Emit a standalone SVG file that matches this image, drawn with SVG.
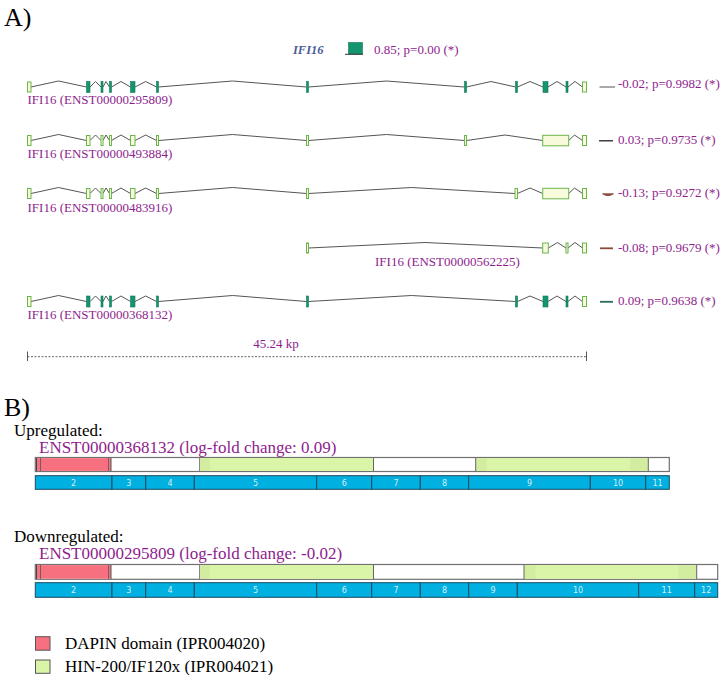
<svg xmlns="http://www.w3.org/2000/svg" width="720" height="675" viewBox="0 0 720 675">
<style>
text{font-family:"Liberation Serif","Times New Roman",serif}
.lab{font-size:13px;fill:#8e1d8e}
.pv{font-size:13px;fill:#8e1d8e}
.big{font-size:17px;fill:#000}
.tx{font-size:17px;fill:#8e1d8e}
.intr{fill:none;stroke:#555;stroke-width:1}
.ed{fill:#14946f;stroke:#0e7a58;stroke-width:0.6}
.el{fill:#f7fbdc;stroke:#6cb54c;stroke-width:1}
.pb{fill:#fff;stroke:#707070;stroke-width:1.2}
.dap{fill:#f7707f}
.hin{fill:#daf5a8}
.hin2{fill:#d2ed9f}
.ex{fill:#00b0e0;stroke:#1a4a60;stroke-width:1}
.en{font-size:8px;fill:#d8ecf4;text-anchor:middle;font-family:"DejaVu Sans",sans-serif}
</style>

<text x="4" y="26" style="font-size:26px;fill:#000">A)</text>

<g id="header">
<text x="293" y="54" style="font-size:12.5px;font-weight:bold;font-style:italic;fill:#4a5d98">IFI16</text>
<rect x="348.5" y="42.5" width="14" height="11.5" fill="#14946f" stroke="#0e7a58" stroke-width="0.6"/>
<line x1="345" y1="54.3" x2="363" y2="54.3" stroke="#333" stroke-width="1"/>
<text x="374" y="54" class="pv">0.85; p=0.00 (*)</text>
</g>

<g id="connectors">
<polyline class="intr" points="31,87 58.5,81 86.5,87"/>
<polyline class="intr" points="90,87 95.5,81.5 101,87"/>
<polyline class="intr" points="103,87 106,81.5 109.5,87"/>
<polyline class="intr" points="111.5,87 121,81.5 130.5,87"/>
<polyline class="intr" points="135,87 145.7,81.5 156.5,87"/>
<polyline class="intr" points="158.5,87 232.5,81 306.5,87"/>
<polyline class="intr" points="308.5,87 386.5,81 464.5,87"/>
<polyline class="intr" points="466.5,87 491,81.5 515.5,87"/>
<polyline class="intr" points="517.5,87 530,81.5 543,87"/>
<polyline class="intr" points="548,87 557,81.5 566,87"/>
<polyline class="intr" points="568,87 575,81.5 582.5,87"/>
<polyline class="intr" points="31,140.5 58.5,134.5 86.5,140.5"/>
<polyline class="intr" points="90,140.5 95.5,135 101,140.5"/>
<polyline class="intr" points="103,140.5 106,135 109.5,140.5"/>
<polyline class="intr" points="111.5,140.5 121,135 130.5,140.5"/>
<polyline class="intr" points="135,140.5 145.7,135 156.5,140.5"/>
<polyline class="intr" points="158.5,140.5 232.5,134.5 306.5,140.5"/>
<polyline class="intr" points="308.5,140.5 386.5,134.5 464.5,140.5"/>
<polyline class="intr" points="466.5,140.5 505,135 542.7,140.5"/>
<polyline class="intr" points="568.7,140.5 574.5,135 582.5,140.5"/>
<polyline class="intr" points="31,193.5 58.5,187.5 86.5,193.5"/>
<polyline class="intr" points="90,193.5 95.5,188 101,193.5"/>
<polyline class="intr" points="103,193.5 106,188 109.5,193.5"/>
<polyline class="intr" points="111.5,193.5 121,188 130.5,193.5"/>
<polyline class="intr" points="135,193.5 145.7,188 156.5,193.5"/>
<polyline class="intr" points="158.5,193.5 232.5,187.5 306.5,193.5"/>
<polyline class="intr" points="308.5,193.5 411.5,187.5 515,193.5"/>
<polyline class="intr" points="517.5,193.5 530,188 542.7,193.5"/>
<polyline class="intr" points="568.7,193.5 574.5,188 582.5,193.5"/>
<polyline class="intr" points="308.5,248 425,242.5 542.7,248"/>
<polyline class="intr" points="548.3,248 557.5,242.5 566,248"/>
<polyline class="intr" points="568,248 575,242.5 582.5,248"/>
<polyline class="intr" points="31,301.5 58.5,295.5 86.5,301.5"/>
<polyline class="intr" points="90,301.5 95.5,296 101,301.5"/>
<polyline class="intr" points="103,301.5 106,296 109.5,301.5"/>
<polyline class="intr" points="111.5,301.5 121,296 130.5,301.5"/>
<polyline class="intr" points="135,301.5 145.7,296 156.5,301.5"/>
<polyline class="intr" points="158.5,301.5 232.5,295.5 306.5,301.5"/>
<polyline class="intr" points="308.5,301.5 411.5,295.5 515.5,301.5"/>
<polyline class="intr" points="517.5,301.5 530,296 543,301.5"/>
<polyline class="intr" points="548,301.5 557,296 566,301.5"/>
<polyline class="intr" points="568,301.5 575,296 582.5,301.5"/>
</g>

<g id="track1">
<rect class="el" x="27.5" y="82" width="3.5" height="10"/>
<rect class="ed" x="86.5" y="81.5" width="3.5" height="11"/>
<rect class="ed" x="101" y="81.5" width="2" height="11"/>
<rect class="ed" x="109.5" y="81.5" width="2" height="11"/>
<rect class="ed" x="130.5" y="81.5" width="4.5" height="11"/>
<rect class="ed" x="156.5" y="81.5" width="2" height="11"/>
<rect class="ed" x="306.5" y="81.5" width="2" height="11"/>
<rect class="ed" x="464.5" y="81.5" width="2" height="11"/>
<rect class="ed" x="515.5" y="81.5" width="2" height="11"/>
<rect class="ed" x="543" y="81.5" width="5" height="11"/>
<rect class="ed" x="566" y="81.5" width="2" height="11"/>
<rect class="el" x="582.5" y="82" width="4" height="10"/>
<text x="27.5" y="103.5" class="lab">IFI16 (ENST00000295809)</text>
<line x1="599.5" y1="87" x2="615" y2="87" stroke="#555" stroke-width="1"/>
<text x="618" y="88" class="pv">-0.02; p=0.9982 (*)</text>
</g>

<g id="track2">
<rect class="el" x="27.5" y="135.5" width="3.5" height="10"/>
<rect class="el" x="86.5" y="135.5" width="3.5" height="10"/>
<rect class="el" x="101" y="135.5" width="2" height="10"/>
<rect class="el" x="109.5" y="135.5" width="2" height="10"/>
<rect class="el" x="130.5" y="135.5" width="4.5" height="10"/>
<rect class="el" x="156.5" y="135.5" width="2" height="10"/>
<rect class="el" x="306.5" y="135.5" width="2" height="10"/>
<rect class="el" x="464.5" y="135.5" width="2" height="10"/>
<rect class="el" x="542.7" y="135.3" width="26" height="10.5"/>
<rect class="el" x="582.5" y="135.5" width="4" height="10"/>
<text x="27.5" y="157.5" class="lab">IFI16 (ENST00000493884)</text>
<line x1="599" y1="140.8" x2="613" y2="140.8" stroke="#222" stroke-width="1.3"/>
<text x="618" y="144" class="pv">0.03; p=0.9735 (*)</text>
</g>

<g id="track3">
<rect class="el" x="27.5" y="188.5" width="3.5" height="10"/>
<rect class="el" x="86.5" y="188.5" width="3.5" height="10"/>
<rect class="el" x="101" y="188.5" width="2" height="10"/>
<rect class="el" x="109.5" y="188.5" width="2" height="10"/>
<rect class="el" x="130.5" y="188.5" width="4.5" height="10"/>
<rect class="el" x="156.5" y="188.5" width="2" height="10"/>
<rect class="el" x="306.5" y="188.5" width="2" height="10"/>
<rect class="el" x="515" y="188.5" width="2.5" height="10"/>
<rect class="el" x="542.7" y="188.3" width="26" height="10.5"/>
<rect class="el" x="582.5" y="188.5" width="4" height="10"/>
<text x="27.5" y="211.5" class="lab">IFI16 (ENST00000483916)</text>
<path d="M602.5,193.8 L613.5,193.8 Q608,197.5 602.5,193.8 Z" fill="#c43a2e" stroke="#6a4a40" stroke-width="0.8"/>
<text x="618" y="197" class="pv">-0.13; p=0.9272 (*)</text>
</g>

<g id="track4">
<rect class="el" x="306.5" y="243" width="2" height="10"/>
<rect class="el" x="542.7" y="243" width="5.6" height="10"/>
<rect class="el" x="566" y="243" width="2" height="10"/>
<rect class="el" x="582.5" y="243" width="4" height="10"/>
<text x="375" y="266" class="lab">IFI16 (ENST00000562225)</text>
<line x1="600" y1="248.3" x2="613" y2="248.3" stroke="#8a4a38" stroke-width="1.8"/>
<text x="618" y="251.5" class="pv">-0.08; p=0.9679 (*)</text>
</g>

<g id="track5">
<rect class="el" x="27.5" y="296.5" width="3.5" height="10"/>
<rect class="ed" x="86.5" y="296" width="3.5" height="11"/>
<rect class="ed" x="101" y="296" width="2" height="11"/>
<rect class="ed" x="109.5" y="296" width="2" height="11"/>
<rect class="ed" x="130.5" y="296" width="4.5" height="11"/>
<rect class="ed" x="156.5" y="296" width="2" height="11"/>
<rect class="ed" x="306.5" y="296" width="2" height="11"/>
<rect class="ed" x="515.5" y="296" width="2" height="11"/>
<rect class="ed" x="543" y="296" width="5" height="11"/>
<rect class="ed" x="566" y="296" width="2" height="11"/>
<rect class="el" x="582.5" y="296.5" width="4" height="10"/>
<text x="27.5" y="319" class="lab">IFI16 (ENST00000368132)</text>
<line x1="600" y1="301.8" x2="613" y2="301.8" stroke="#2a6a5c" stroke-width="1.8"/>
<text x="618" y="305" class="pv">0.09; p=0.9638 (*)</text>
</g>

<g id="scale">
<line x1="27.5" y1="356.7" x2="586.5" y2="356.7" stroke="#666" stroke-width="1" stroke-dasharray="2,1.5"/>
<line x1="27.5" y1="351.5" x2="27.5" y2="361" stroke="#555" stroke-width="1"/>
<line x1="586.5" y1="351.5" x2="586.5" y2="361" stroke="#555" stroke-width="1"/>
<text x="276" y="348" class="lab" text-anchor="middle">45.24 kp</text>
</g>

<text x="4" y="416" style="font-size:26px;fill:#000">B)</text>

<g id="upregulated">
<text x="14" y="435.5" class="big">Upregulated:</text>
<text x="39" y="452.5" class="tx">ENST00000368132 (log-fold change: 0.09)</text>
<rect class="pb" x="35.3" y="457.5" width="634" height="14"/>
<rect class="dap" x="36" y="458.1" width="75" height="12.8"/>
<line x1="36.5" y1="458" x2="36.5" y2="471" stroke="#444" stroke-width="1"/>
<line x1="40.5" y1="458" x2="40.5" y2="471" stroke="#555" stroke-width="0.8"/>
<line x1="108.5" y1="458" x2="108.5" y2="471" stroke="#555" stroke-width="0.8"/>
<line x1="111" y1="458" x2="111" y2="471" stroke="#555" stroke-width="1"/>
<rect class="hin2" x="199.5" y="458.1" width="174" height="12.8"/>
<rect class="hin" x="210" y="458.1" width="163.5" height="12.8"/>
<line x1="199.5" y1="458" x2="199.5" y2="471" stroke="#888" stroke-width="1"/>
<line x1="373.5" y1="458" x2="373.5" y2="471" stroke="#666" stroke-width="1"/>
<rect class="hin2" x="475.7" y="458.1" width="172.6" height="12.8"/>
<rect class="hin" x="486.7" y="458.1" width="143.3" height="12.8"/>
<line x1="475.7" y1="458" x2="475.7" y2="471" stroke="#666" stroke-width="1"/>
<line x1="648.3" y1="458" x2="648.3" y2="471" stroke="#666" stroke-width="1"/>
<rect class="ex" x="35.3" y="475.7" width="76.7" height="13.6"/>
<rect class="ex" x="112" y="475.7" width="33.7" height="13.6"/>
<rect class="ex" x="145.7" y="475.7" width="48.6" height="13.6"/>
<rect class="ex" x="194.3" y="475.7" width="122.4" height="13.6"/>
<rect class="ex" x="316.7" y="475.7" width="55" height="13.6"/>
<rect class="ex" x="371.7" y="475.7" width="48.6" height="13.6"/>
<rect class="ex" x="420.3" y="475.7" width="48.4" height="13.6"/>
<rect class="ex" x="468.7" y="475.7" width="121.6" height="13.6"/>
<rect class="ex" x="590.3" y="475.7" width="55.4" height="13.6"/>
<rect class="ex" x="645.7" y="475.7" width="23.6" height="13.6"/>
<text class="en" x="73.6" y="485.5">2</text>
<text class="en" x="128.8" y="485.5">3</text>
<text class="en" x="170" y="485.5">4</text>
<text class="en" x="255.5" y="485.5">5</text>
<text class="en" x="344.2" y="485.5">6</text>
<text class="en" x="396" y="485.5">7</text>
<text class="en" x="444.5" y="485.5">8</text>
<text class="en" x="529.5" y="485.5">9</text>
<text class="en" x="618" y="485.5">10</text>
<text class="en" x="657.5" y="485.5">11</text>
</g>

<g id="downregulated">
<text x="14" y="542" class="big">Downregulated:</text>
<text x="39" y="558.5" class="tx">ENST00000295809 (log-fold change: -0.02)</text>
<rect class="pb" x="35.3" y="564.5" width="682.4" height="14.8"/>
<rect class="dap" x="36" y="565.1" width="75" height="13.6"/>
<line x1="36.5" y1="565" x2="36.5" y2="579" stroke="#444" stroke-width="1"/>
<line x1="40.5" y1="565" x2="40.5" y2="579" stroke="#555" stroke-width="0.8"/>
<line x1="108.5" y1="565" x2="108.5" y2="579" stroke="#555" stroke-width="0.8"/>
<line x1="111" y1="565" x2="111" y2="579" stroke="#555" stroke-width="1"/>
<rect class="hin2" x="199.5" y="565.1" width="174" height="13.6"/>
<rect class="hin" x="210" y="565.1" width="163.5" height="13.6"/>
<line x1="199.5" y1="565" x2="199.5" y2="579" stroke="#888" stroke-width="1"/>
<line x1="373.5" y1="565" x2="373.5" y2="579" stroke="#666" stroke-width="1"/>
<rect class="hin2" x="524" y="565.1" width="172.7" height="13.6"/>
<rect class="hin" x="535.5" y="565.1" width="142.8" height="13.6"/>
<line x1="524" y1="565" x2="524" y2="579" stroke="#666" stroke-width="1"/>
<line x1="696.7" y1="565" x2="696.7" y2="579" stroke="#666" stroke-width="1"/>
<rect class="ex" x="35.3" y="582.7" width="76.7" height="14.6"/>
<rect class="ex" x="112" y="582.7" width="33.7" height="14.6"/>
<rect class="ex" x="145.7" y="582.7" width="48.6" height="14.6"/>
<rect class="ex" x="194.3" y="582.7" width="122.4" height="14.6"/>
<rect class="ex" x="316.7" y="582.7" width="55" height="14.6"/>
<rect class="ex" x="371.7" y="582.7" width="48.6" height="14.6"/>
<rect class="ex" x="420.3" y="582.7" width="48.4" height="14.6"/>
<rect class="ex" x="468.7" y="582.7" width="48.6" height="14.6"/>
<rect class="ex" x="517.3" y="582.7" width="121.4" height="14.6"/>
<rect class="ex" x="638.7" y="582.7" width="56" height="14.6"/>
<rect class="ex" x="694.7" y="582.7" width="23" height="14.6"/>
<text class="en" x="73.6" y="593">2</text>
<text class="en" x="128.8" y="593">3</text>
<text class="en" x="170" y="593">4</text>
<text class="en" x="255.5" y="593">5</text>
<text class="en" x="344.2" y="593">6</text>
<text class="en" x="396" y="593">7</text>
<text class="en" x="444.5" y="593">8</text>
<text class="en" x="493" y="593">9</text>
<text class="en" x="578" y="593">10</text>
<text class="en" x="666.7" y="593">11</text>
<text class="en" x="706.2" y="593">12</text>
</g>

<g id="legend">
<rect x="35.5" y="636.7" width="14.5" height="13.5" fill="#f7707f" stroke="#555" stroke-width="1"/>
<text x="65" y="649" class="big">DAPIN domain (IPR004020)</text>
<rect x="35.5" y="660" width="14.5" height="13.3" fill="#daf5a8" stroke="#555" stroke-width="1"/>
<text x="65" y="672" class="big">HIN-200/IF120x (IPR004021)</text>
</g>
</svg>
